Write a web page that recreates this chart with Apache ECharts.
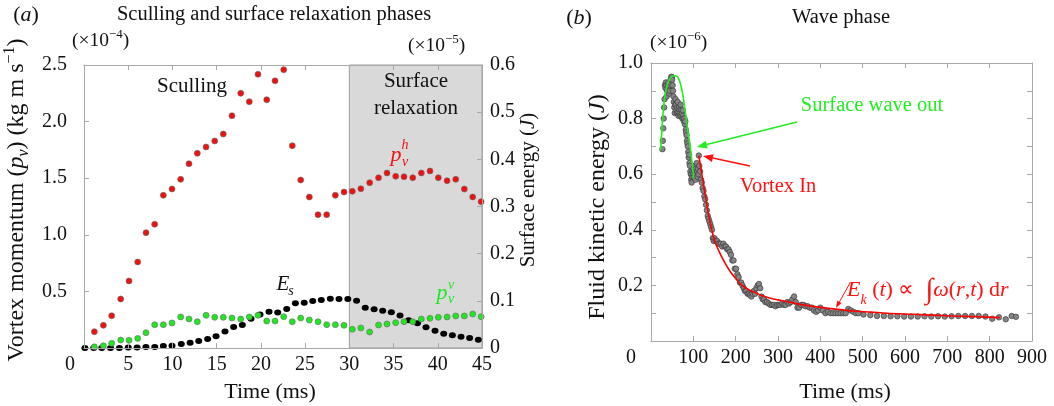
<!DOCTYPE html>
<html><head><meta charset="utf-8">
<script src="https://cdn.jsdelivr.net/npm/echarts@6/dist/echarts.min.js"></script>
<style>html,body{margin:0;padding:0;background:#fff}#c{width:1054px;height:406px}</style>
</head><body><div id="c"></div>
<script>
// ---------- (a) Sculling and surface relaxation phases ----------
const timeA = [1.17,2.19,3.13,4.15,5.09,6.07,7.01,7.99,8.97,9.95,10.93,11.87,12.81,13.8,14.78,15.75,16.73,17.72,18.69,19.67,20.66,21.6,22.58,23.55,24.5,25.48,26.46,27.44,28.42,29.4,30.34,31.3,32.3,33.3,34.26,35.24,36.18,37.17,38.14,39.12,40.06,41.05,42.03,43.0,43.95,44.9];
const pvH = [0.144,0.20,0.285,0.433,0.592,0.76,1.019,1.093,1.349,1.405,1.49,1.628,1.72,1.776,1.829,1.89,2.052,2.25,2.176,2.418,2.193,2.36,2.459,1.787,1.484,1.334,1.178,1.178,1.349,1.378,1.384,1.407,1.46,1.504,1.546,1.517,1.513,1.504,1.546,1.564,1.504,1.478,1.49,1.404,1.334,1.293];
const pvV = [0.01,0.02,0.041,0.07,0.068,0.085,0.135,0.206,0.206,0.221,0.274,0.256,0.232,0.289,0.271,0.271,0.265,0.256,0.274,0.289,0.238,0.238,0.277,0.232,0.265,0.247,0.232,0.206,0.206,0.20,0.165,0.177,0.141,0.203,0.212,0.224,0.232,0.232,0.256,0.262,0.271,0.274,0.283,0.283,0.30,0.277];
const timeE = [0.1,1.1,2.0,3.0,4.0,5.0,6.0,7.0,8.0,8.97,9.95,11.0,12.0,12.97,13.98,14.93,15.94,16.92,17.9,18.88,19.9,20.92,21.9,22.92,23.9,24.9,25.86,26.83,27.85,28.83,29.83,30.82,31.8,32.8,33.77,34.75,35.73,36.7,37.7,38.67,39.69,40.67,41.65,42.63,43.6,44.58];
const Es = [0,0,0,0,0,0.001,0.001,0.002,0.002,0.004,0.005,0.0085,0.011,0.015,0.019,0.025,0.035,0.0445,0.049,0.062,0.071,0.077,0.0755,0.0827,0.0947,0.096,0.0997,0.1018,0.1046,0.104,0.104,0.1,0.0855,0.082,0.079,0.0756,0.069,0.0587,0.0523,0.0438,0.0367,0.0304,0.027,0.024,0.021,0.0176];
const relaxStart = 30, relaxEnd = 45;

// ---------- (b) Wave phase ----------
const waveT = [27,28,29,30,31,32,33,34,35,36,37,38,40,41,42,43,44,45,46,47,48,49,50,51,52,53,54,55,56,57,58,59,60,61,62,63,64,65,66,67,68,69,70,71,72,73,74,75,76,77,78,79,80,81,82,83,84,85,86,87,88,89,90,91,92,93,94,95,96,97,98,99,100,101,102,103,104,105,106,107,108,109,110,111,112,113,114,116,118,120,122,124,126,128,130,132,134,136,138,140,142,144,146,148,150,153,156,159,162,165,168,171,174,177,180,183,186,189,192,195,198,201,204,207,210,213,216,219,222,225,228,231,234,237,240,243,246,249,252,255,258,261,264,267,270,274,278,282,286,290,294,298,302,306,310,314,318,322,326,330,334,338,342,346,350,355,360,365,370,375,380,385,390,395,400,406,412,418,424,430,436,442,448,454,460,466,472,478,484,490,502,518,534,550,566,582,598,614,630,646,662,678,694,710,726,742,758,774,790,806,822,838,852,862];
const waveE = [.69,.72,.765,.80,.84,.87,.92,.91,.93,.92,.88,.90,.92,.93,.91,.89,.90,.92,.93,.94,.95,.95,.94,.92,.90,.88,.86,.84,.82,.85,.87,.85,.83,.82,.84,.86,.82,.81,.84,.83,.82,.81,.85,.83,.81,.82,.80,.83,.81,.80,.79,.80,.78,.79,.76,.75,.74,.72,.71,.70,.68,.66,.67,.64,.63,.61,.60,.58,.57,.59,.61,.60,.62,.59,.61,.63,.60,.58,.62,.60,.64,.61,.59,.62,.60,.667,.63,.61,.58,.57,.55,.54,.52,.51,.49,.47,.45,.44,.43,.42,.41,.40,.37,.36,.37,.36,.36,.35,.35,.35,.34,.35,.34,.34,.33,.33,.32,.31,.29,.29,.26,.26,.24,.23,.21,.21,.20,.19,.18,.18,.17,.17,.165,.16,.17,.18,.17,.19,.20,.205,.19,.16,.15,.15,.14,.14,.135,.13,.13,.13,.125,.13,.13,.13,.135,.13,.13,.14,.135,.14,.15,.16,.14,.12,.12,.13,.13,.125,.125,.12,.12,.11,.105,.11,.12,.11,.10,.105,.10,.10,.10,.10,.10,.10,.10,.115,.11,.105,.10,.10,.095,.093,.09,.09,.089,.089,.088,.088,.088,.089,.088,.089,.088,.089,.09,.09,.09,.09,.088,.08,.085,.078,.09,.087];
const waveFitT = [22.8,25.2,27,29.1,32,35.4,39,43.3,48,52.7,57,62,65,68,72,76,79,82.5,85,88,91,93.5,96,98,101];
const waveFitE = [.687,.747,.79,.831,.87,.903,.925,.941,.95,.953,.954,.951,.945,.933,.91,.879,.845,.807,.778,.747,.715,.687,.655,.627,.585];
const vortexFitT = [113,120,127,133,139,146,153,163,175,187,200,215,230,242,260,280,300,320,360,400,440,478,520,557,620,680,714,770,824];
const vortexFitE = [.667,.60,.535,.48,.43,.385,.35,.315,.28,.25,.225,.2,.185,.177,.165,.155,.148,.142,.13,.121,.114,.108,.104,.1,.096,.092,.09,.087,.084];

const zip = (a, b) => a.map((v, i) => [v, b[i]]);
const FF = '"Liberation Serif", "Times New Roman", serif';
const AX = '#a9a9a9';
const TXT = '#111';

function xAx(gi, pos, min, max, itv, showLabel) {
  return {gridIndex: gi, type: 'value', position: pos, min, max, interval: itv, z: 5,
    axisLine: {show: true, onZero: false, lineStyle: {color: AX, width: 1}},
    axisTick: {show: true, inside: true, length: 5, lineStyle: {color: AX}},
    axisLabel: {show: showLabel, margin: 7, fontSize: 20, fontFamily: FF, color: TXT,
      formatter: v => v === 0 ? '' : String(v)},
    splitLine: {show: false}};
}
function yAx(gi, pos, min, max, itv, fmt, margin) {
  return {gridIndex: gi, type: 'value', position: pos, min, max, interval: itv, z: 5,
    axisLine: {show: true, onZero: false, lineStyle: {color: AX, width: 1}},
    axisTick: {show: true, inside: true, length: 5, lineStyle: {color: AX}},
    axisLabel: {show: !!fmt, margin: margin || 8, fontSize: 20, fontFamily: FF, color: TXT, formatter: fmt || (() => '')},
    splitLine: {show: false}};
}

function T(x, y, text, size, extra) {
  extra = extra || {};
  return Object.assign({type: 'text', x, y, z: 100, style: Object.assign({
    text, fill: TXT, fontSize: size, fontFamily: FF,
    align: 'center', verticalAlign: 'middle', textAlign: 'center', textVerticalAlign: 'middle'
  }, extra.style || {})}, extra.el || {});
}
function R(size, col) {
  const s = Math.round(size * 0.65);
  return {
    n: {fontSize: size, fontFamily: FF, color: col},
    i: {fontSize: size, fontFamily: FF, fontStyle: 'italic', color: col},
    sb: {fontSize: s, fontFamily: FF, fontStyle: 'italic', color: col, verticalAlign: 'bottom', padding: [0, 0, -3, 0]},
    sp: {fontSize: s, fontFamily: FF, color: col, verticalAlign: 'top', padding: [-3, 0, 0, 0]},
    int: {fontSize: size * 1.3, fontFamily: FF, color: col}
  };
}
function RT(x, y, text, size, col, extra) {
  extra = extra || {};
  return Object.assign({type: 'text', x, y, z: 100, style: {
    text, rich: R(size, col), fill: col, fontSize: size, fontFamily: FF,
    align: extra.align || 'center', verticalAlign: 'middle',
    textAlign: extra.align || 'center', textVerticalAlign: 'middle'
  }}, extra.el || {});
}
function arrow(x1, y1, x2, y2, col, w, hl, hw) {
  const dx = x2 - x1, dy = y2 - y1, L = Math.hypot(dx, dy), ux = dx / L, uy = dy / L;
  const bx = x2 - ux * hl, by = y2 - uy * hl, px = -uy * hw, py = ux * hw;
  return [
    {type: 'line', z: 100, shape: {x1, y1, x2: bx, y2: by}, style: {stroke: col, lineWidth: w}},
    {type: 'polygon', z: 100, shape: {points: [[x2, y2], [bx + px, by + py], [bx - px, by - py]]}, style: {fill: col}}
  ];
}

const RED = '#ee1111', GREEN = '#22e622';

const option = {
  animation: false,
  backgroundColor: '#fff',
  grid: [
    {left: 84, top: 65, width: 398, height: 283, outerBoundsMode: 'none', containLabel: false},
    {left: 651, top: 63, width: 381, height: 278, outerBoundsMode: 'none', containLabel: false}
  ],
  xAxis: [
    xAx(0, 'bottom', 0, 45, 5, true),
    xAx(0, 'top', 0, 45, 5, false),
    xAx(1, 'bottom', 0, 900, 100, true),
    xAx(1, 'top', 0, 900, 100, false)
  ],
  yAxis: [
    yAx(0, 'left', 0, 2.5, 0.5, v => v === 0 ? '' : v.toFixed(1), 17),
    yAx(0, 'right', 0, 0.6, 0.1, v => v === 0 ? '0' : v.toFixed(1), 8),
    yAx(1, 'left', 0, 1, 0.1, v => { const k = Math.round(v * 10); return (k > 0 && k % 2 === 0) ? (k / 10).toFixed(1) : ''; }, 8),
    yAx(1, 'right', 0, 1, 0.1, null)
  ],
  series: [
    {type: 'scatter', xAxisIndex: 0, yAxisIndex: 0, z: 1, symbolSize: 0, data: [[relaxStart, 0]], silent: true,
      markArea: {silent: true, itemStyle: {color: '#d9d9d9', borderColor: '#9c9c9c', borderWidth: 1},
        data: [[{coord: [relaxStart, 0]}, {coord: [relaxEnd, 2.5]}]]}},
    {type: 'scatter', xAxisIndex: 0, yAxisIndex: 1, z: 2, symbolSize: [7, 6], data: zip(timeE, Es),
      itemStyle: {color: '#000', opacity: 1}},
    {type: 'scatter', xAxisIndex: 0, yAxisIndex: 0, z: 3, symbolSize: 6, data: zip(timeA, pvV),
      itemStyle: {color: GREEN, borderColor: '#6a6a6a', borderWidth: 0.6, opacity: 1}},
    {type: 'scatter', xAxisIndex: 0, yAxisIndex: 0, z: 3, symbolSize: 6, data: zip(timeA, pvH),
      itemStyle: {color: RED, borderColor: '#6a6a6a', borderWidth: 0.6, opacity: 1}},
    {type: 'scatter', xAxisIndex: 2, yAxisIndex: 2, z: 2, symbolSize: 5.5, data: zip(waveT, waveE),
      itemStyle: {color: '#858585', borderColor: '#3c3c3c', borderWidth: 0.7, opacity: 1}},
    {type: 'line', xAxisIndex: 2, yAxisIndex: 2, z: 4, smooth: 0.3, showSymbol: false, data: zip(waveFitT, waveFitE),
      lineStyle: {color: '#22ee22', width: 1.6}},
    {type: 'line', xAxisIndex: 2, yAxisIndex: 2, z: 4, smooth: 0.3, showSymbol: false, data: zip(vortexFitT, vortexFitE),
      lineStyle: {color: '#ff0000', width: 1.6}}
  ],
  graphic: {elements: [
    // panel (a) texts
    RT(26, 15, '{n|(}{i|a}{n|)}', 22, TXT),
    T(274, 15, 'Sculling and surface relaxation phases', 20.5),
    RT(72, 41, '{n|(×10}{sp|−4}{n|)}', 19.5, TXT, {align: 'left'}),
    RT(408, 46, '{n|(×10}{sp|−5}{n|)}', 19.5, TXT, {align: 'left'}),
    T(70, 365, '0', 20),
    T(270, 392, 'Time (ms)', 22),
    RT(17, 200, '{n|Vortex momentum (}{i|p}{sb|v}{n|) (kg m s}{sp|−1}{n|)}', 24, TXT, {el: {rotation: Math.PI / 2}}),
    RT(528, 190, '{n|Surface energy (}{i|J}{n|)}', 21, TXT, {el: {rotation: Math.PI / 2}}),
    T(192, 86, 'Sculling', 21),
    T(416, 81, 'Surface', 21),
    T(416, 108, 'relaxation', 21),
    T(396, 155, 'p', 22, {style: {fill: RED, fontStyle: 'italic'}}),
    T(405, 162, 'v', 14, {style: {fill: RED, fontStyle: 'italic'}}),
    T(405, 145, 'h', 14, {style: {fill: RED, fontStyle: 'italic'}}),
    T(442, 293, 'p', 22, {style: {fill: GREEN, fontStyle: 'italic'}}),
    T(451, 299, 'v', 14, {style: {fill: GREEN, fontStyle: 'italic'}}),
    T(451, 285, 'v', 14, {style: {fill: GREEN, fontStyle: 'italic'}}),
    T(283, 284, 'E', 21, {style: {fontStyle: 'italic'}}),
    T(291, 291, 's', 14, {style: {fontStyle: 'italic'}}),
    // panel (b) texts
    RT(579, 18, '{n|(}{i|b}{n|)}', 22, TXT),
    T(841, 18, 'Wave phase', 20.5),
    RT(650, 43, '{n|(×10}{sp|−6}{n|)}', 19.5, TXT, {align: 'left'}),
    T(631, 358, '0', 20),
    T(845, 392, 'Time (ms)', 22),
    RT(598, 207, '{n|Fluid kinetic energy (}{i|J}{n|)}', 24, TXT, {el: {rotation: Math.PI / 2}}),
    T(872, 106, 'Surface wave out', 20.5, {style: {fill: '#22ee22'}}),
    T(778, 187, 'Vortex In', 20.5, {style: {fill: '#ff1111'}}),
    RT(847, 290, '{i|E}{sb|k}{n| (}{i|t}{n|) ∝  }{int|∫}{i|ω}{n|(}{i|r}{n|,}{i|t}{n|) d}{i|r}', 22, '#ff1111', {align: 'left'}),
    ...arrow(797, 122, 697, 147, '#22ee22', 1.6, 10, 4),
    ...arrow(750, 166, 703, 156, '#ff1111', 1.6, 10, 4),
    ...arrow(850, 283, 836, 308, '#ff1111', 1, 7, 2.5)
  ]}
};
const chart = echarts.init(document.getElementById('c'), null, {renderer: 'canvas'});
chart.setOption(option);
</script></body></html>
